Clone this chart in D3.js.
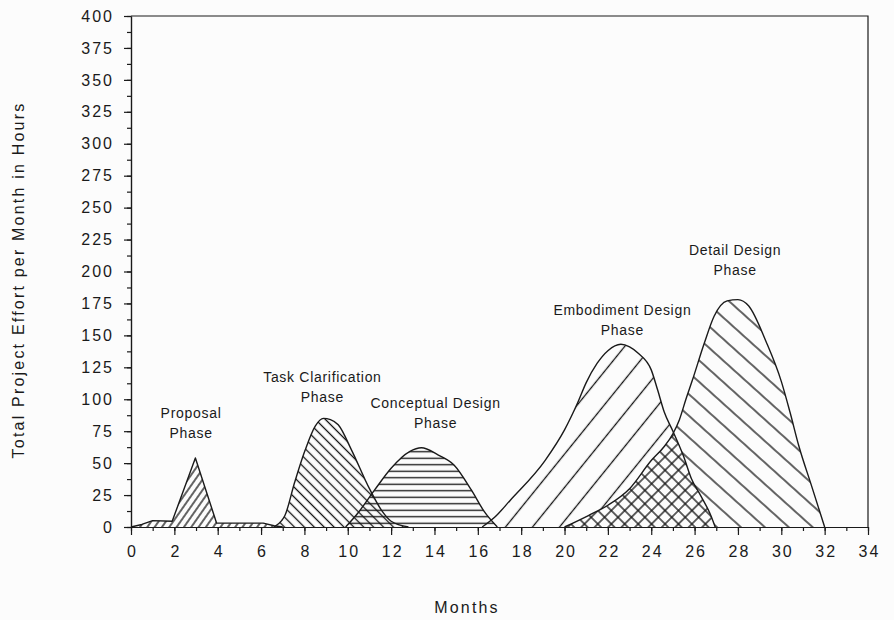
<!DOCTYPE html>
<html lang="en">
<head>
<meta charset="utf-8">
<title>Project Effort per Phase</title>
<script src="https://d3js.org/d3.v7.min.js"></script>
<style>
  body { margin: 0; background: #fcfcfc; }
  svg { display: block; }
  text { font-family: "Liberation Sans", Arial, Helvetica, sans-serif; fill: #1a1a1a; }
  .tick text { font-size: 16px; letter-spacing: 2px; }
  .axis path, .axis line { stroke: #1a1a1a; stroke-width: 1.2; }
  .label { font-size: 14px; letter-spacing: 0.7px; }
  .title { font-size: 16px; letter-spacing: 2.2px; }
</style>
</head>
<body>
<div id="chart"></div>
<script>
// DATA - [month, hours]
const proposal = [[0,0],[0.5,2],[1,5],[1.9,4.5],[2.97,54],[3.95,3],[6.1,3],[6.6,1],[7,0]];
const taskClarification = [[6.6,0],[6.95,5],[7.1,9],[7.55,35],[8.03,60],[8.5,79],[8.88,85],[9.2,84],[9.56,80],[10.18,60],[11.0,30],[11.6,12],[12.0,4.5],[12.8,0]];
const conceptual = [[9.9,0],[10.47,11],[11.24,29],[12.0,46],[12.85,59],[13.4,62],[14.16,56.5],[14.9,48.6],[15.7,29],[16.3,12],[16.9,0]];
const embodiment = [[16.2,0],[16.8,8],[17.5,21],[19.1,52],[20.0,76],[20.6,97],[21.0,113],[21.5,128],[22.0,138],[22.6,143],[23.0,141],[23.4,136],[24.0,123],[24.3,107],[24.6,90],[25.0,75],[25.5,55],[25.85,38],[26.3,24],[26.75,9],[26.95,0]];
const detail = [[20,0],[21.1,9],[22,17],[23,30],[24,52],[24.6,63],[25,73],[25.3,84],[25.6,100],[25.9,115],[26.45,144],[26.9,165],[27.5,177],[28,178],[28.5,173],[29.3,145],[30,114],[30.4,90],[30.8,64],[31.4,32],[32,0]];

const xTicks = d3.range(0, 35, 2);
const yTicks = d3.range(0, 401, 25);

// phase labels: two lines, anchored at [month, hours]
const labels = [
  {lines: ["Proposal", "Phase"], at: [2.77, 89]},
  {lines: ["Task Clarification", "Phase"], at: [8.83, 117]},
  {lines: ["Conceptual Design", "Phase"], at: [14.05, 97]},
  {lines: ["Embodiment Design", "Phase"], at: [22.67, 170]},
  {lines: ["Detail Design", "Phase"], at: [27.87, 217]}
];

// CONSTANTS
const w = 894, h = 620;
const mLeft = 131, mRight = 868, mTop = 16, mBottom = 527;
const ink = "#1a1a1a";

const x = d3.scaleLinear().domain([0, 34]).range([mLeft, mRight]);
const y = d3.scaleLinear().domain([0, 400]).range([mBottom, mTop]);

const svg = d3.select("#chart").append("svg")
  .attr("width", w).attr("height", h);

svg.append("rect").attr("width", w).attr("height", h).attr("fill", "#fcfcfc");

// HATCH PATTERNS
const defs = svg.append("defs");
function hatch(id, spacing, angle, lines) {
  const p = defs.append("pattern")
    .attr("id", id)
    .attr("patternUnits", "userSpaceOnUse")
    .attr("width", spacing).attr("height", spacing)
    .attr("patternTransform", "rotate(" + angle + ")");
  lines.forEach(l => {
    if (l === "v") p.append("line").attr("x1", spacing / 2).attr("x2", spacing / 2).attr("y1", -1).attr("y2", spacing + 1);
    else p.append("line").attr("y1", spacing / 2).attr("y2", spacing / 2).attr("x1", -1).attr("x2", spacing + 1);
  });
  p.selectAll("line").attr("stroke", "#111").attr("stroke-width", 1.3);
}
hatch("hProposal", 6, 35, ["v"]);
hatch("hTask", 7, -45, ["v"]);
hatch("hConcept", 6.5, 0, ["h"]);
hatch("hEmbod", 21, 39, ["v"]);
hatch("hDetail", 16, -48, ["v"]);
hatch("hCross", 9.5, 45, ["v", "h"]);

const area = curve => d3.area().x(d => x(d[0])).y0(y(0)).y1(d => y(d[1])).curve(curve);
const line = curve => d3.line().x(d => x(d[0])).y(d => y(d[1])).curve(curve);
const smooth = d3.curveMonotoneX;

const phases = [
  {data: proposal, fill: "hProposal", curve: d3.curveLinear},
  {data: taskClarification, fill: "hTask", curve: smooth},
  {data: conceptual, fill: "hConcept", curve: smooth},
  {data: embodiment, fill: "hEmbod", curve: smooth},
  {data: detail, fill: "hDetail", curve: smooth}
];

// AREAS
svg.append("g").selectAll("path")
  .data(phases).enter().append("path")
  .attr("d", p => area(p.curve)(p.data))
  .attr("fill", p => "url(#" + p.fill + ")");

// overlap of embodiment and detail gets its own cross hatch
defs.append("clipPath").attr("id", "clipEmbod")
  .append("path").attr("d", area(smooth)(embodiment));
const overlap = svg.append("g").attr("clip-path", "url(#clipEmbod)");
overlap.append("path").attr("d", area(smooth)(detail)).attr("fill", "#fcfcfc");
overlap.append("path").attr("d", area(smooth)(detail)).attr("fill", "url(#hCross)");

// OUTLINES
svg.append("g").selectAll("path")
  .data(phases).enter().append("path")
  .attr("d", p => line(p.curve)(p.data))
  .attr("fill", "none").attr("stroke", ink).attr("stroke-width", 1.4)
  .attr("stroke-linejoin", "round");

// AXES
svg.append("g").attr("class", "axis")
  .attr("transform", "translate(0," + mBottom + ")")
  .call(d3.axisBottom(x).tickValues(d3.range(0, 35, 1)).tickSize(4).tickSizeOuter(0).tickFormat(""));
svg.append("g").attr("class", "axis")
  .attr("transform", "translate(0," + mBottom + ")")
  .call(d3.axisBottom(x).tickValues(xTicks).tickSize(8).tickSizeOuter(0).tickPadding(11))
  .call(g => g.selectAll(".tick text").attr("dx", "1px"));

svg.append("g").attr("class", "axis")
  .attr("transform", "translate(" + mLeft + ",0)")
  .call(d3.axisLeft(y).tickValues(d3.range(0, 401, 12.5)).tickSize(4).tickSizeOuter(0).tickFormat(""));
svg.append("g").attr("class", "axis")
  .attr("transform", "translate(" + mLeft + ",0)")
  .call(d3.axisLeft(y).tickValues(yTicks).tickSize(7).tickSizeOuter(0).tickPadding(10));

// frame top and right
svg.append("path")
  .attr("d", "M" + mLeft + "," + mTop + "H" + mRight + "V" + mBottom)
  .attr("fill", "none").attr("stroke", ink).attr("stroke-width", 1.2);

// PHASE LABELS
labels.forEach(l => {
  const t = svg.append("text").attr("class", "label").attr("text-anchor", "middle")
    .attr("x", x(l.at[0])).attr("y", y(l.at[1]));
  l.lines.forEach((s, i) => {
    t.append("tspan").attr("x", x(l.at[0])).attr("dy", i === 0 ? "0.35em" : 20).text(s);
  });
});

// AXIS TITLES
svg.append("text").attr("class", "title").attr("text-anchor", "middle")
  .attr("transform", "translate(24,280) rotate(-90)")
  .text("Total Project Effort per Month in Hours");
svg.append("text").attr("class", "title").attr("text-anchor", "middle")
  .attr("x", 467).attr("y", 613)
  .text("Months");
</script>
</body>
</html>
